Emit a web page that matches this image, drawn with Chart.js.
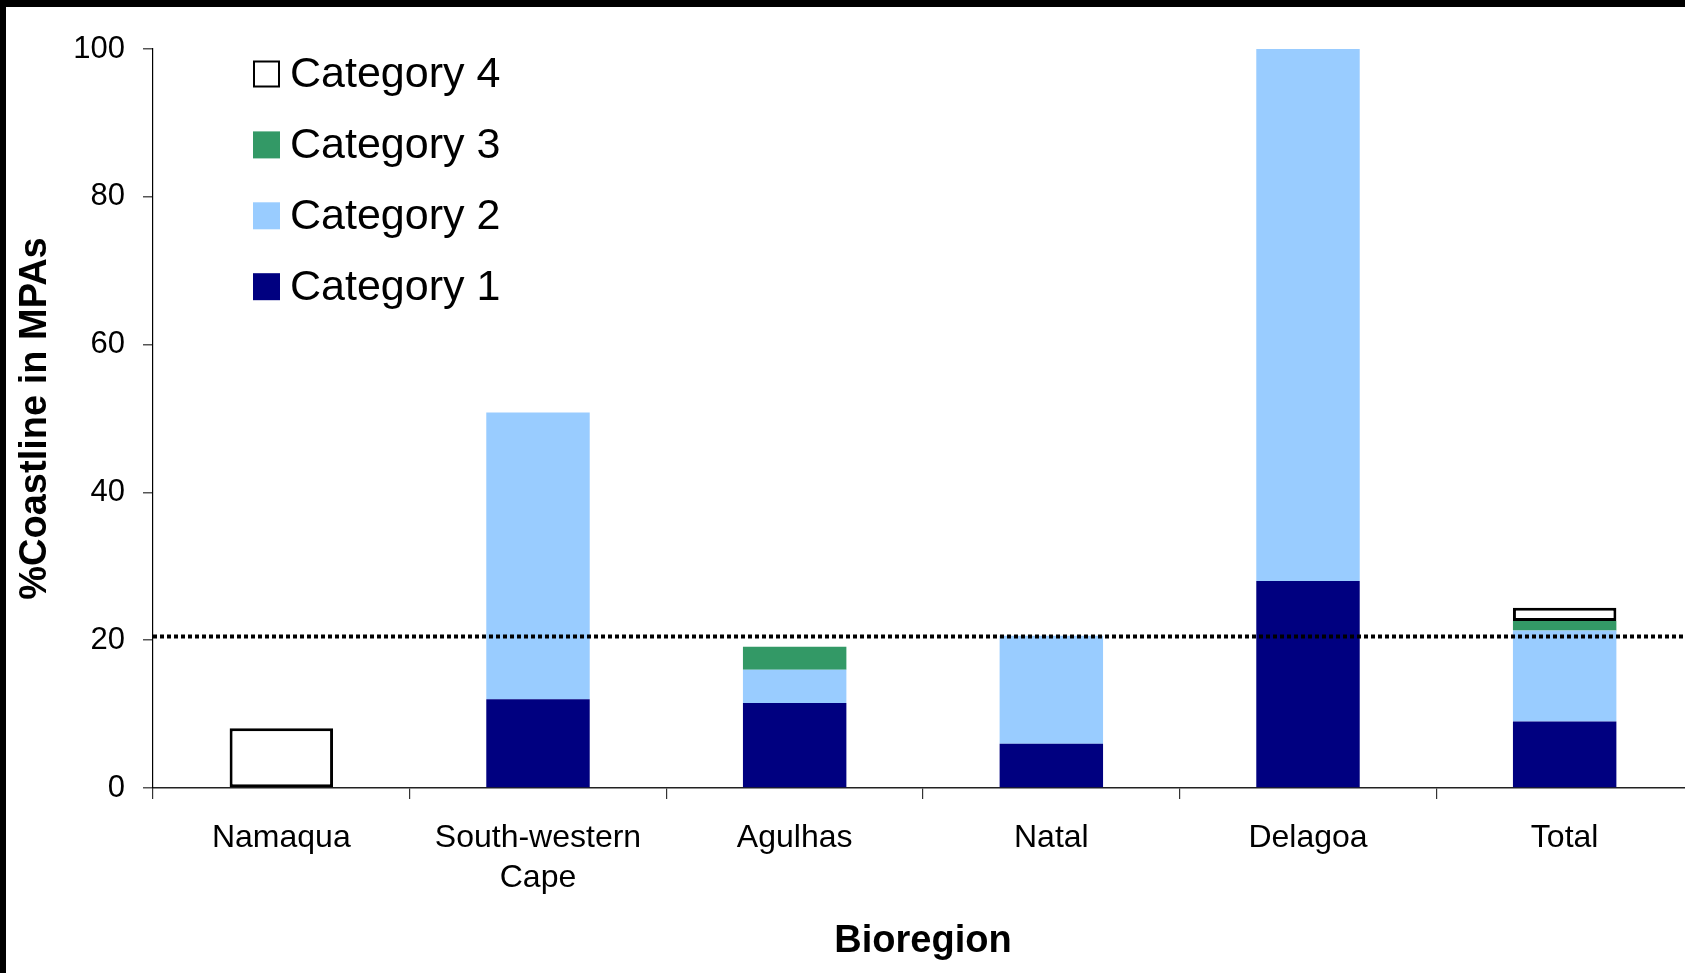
<!DOCTYPE html>
<html>
<head>
<meta charset="utf-8">
<title>%Coastline in MPAs by bioregion</title>
<script src="https://cdn.jsdelivr.net/npm/chart.js@4/dist/chart.umd.min.js"></script>
<style>
  html, body { margin: 0; padding: 0; background: #fff; }
  #wrap { position: relative; width: 1685px; height: 973px; overflow: hidden; }
  #frameTop { position: absolute; left: 0; top: 0; width: 1685px; height: 7px; background: #000; }
  #frameLeft { position: absolute; left: 0; top: 0; width: 6px; height: 973px; background: #000; }
  canvas { position: absolute; left: 0; top: 0; }
</style>
</head>
<body>
<div id="wrap">
  <canvas id="chart" width="1693" height="973"></canvas>
  <div id="frameTop"></div>
  <div id="frameLeft"></div>
</div>
<script>
// Bioregions along the coast, plus the overall total
const bioregions = ['Namaqua', ['South-western', 'Cape'], 'Agulhas', 'Natal', 'Delagoa', 'Total'];

// % of coastline in MPAs, by protection category (stacked)
const category1 = [null, 12, 11.5, 6, 28, 9];
const category2 = [null, 38.8, 4.5, 14.6, 72, 12.3];
const category3 = [null, null, 3.1, null, null, 1.3];
const category4 = [8.1, null, null, null, null, 1.8];

// Conservation target reference line (%)
const targetLine = 20.5;

// Value axis ticks
const yTickValues = [0, 20, 40, 60, 80, 100];

const FONT = '"Liberation Sans", Arial, Helvetica, sans-serif';

// Dotted horizontal target line across the plot area
const targetLinePlugin = {
  id: 'targetLine',
  afterDatasetsDraw(chart) {
    const {ctx, chartArea, scales} = chart;
    const y = scales.y.getPixelForValue(targetLine);
    ctx.save();
    ctx.strokeStyle = '#000';
    ctx.lineWidth = 4;
    ctx.setLineDash([4, 3]);
    ctx.beginPath();
    ctx.moveTo(chartArea.left, y);
    ctx.lineTo(chartArea.right, y);
    ctx.stroke();
    ctx.restore();
  }
};

// Legend placed inside the plot area, top-left, listing categories top-down (4 → 1)
const insideLegendPlugin = {
  id: 'insideLegend',
  afterDraw(chart) {
    const {ctx, chartArea} = chart;
    const box = 27;
    const x0 = chartArea.left + 100;
    const firstCenter = chartArea.top + 25;
    const step = 70.9;
    const items = chart.data.datasets.map((ds, i) => ({ds, i})).reverse();
    ctx.save();
    ctx.font = '43px ' + FONT;
    ctx.textBaseline = 'middle';
    ctx.textAlign = 'left';
    items.forEach((item, row) => {
      const cy = firstCenter + row * step;
      const ds = item.ds;
      ctx.fillStyle = ds.backgroundColor;
      ctx.fillRect(x0, cy - box / 2, box, box);
      if (ds.borderWidth) {
        ctx.strokeStyle = ds.borderColor;
        ctx.lineWidth = 2;
        ctx.strokeRect(x0 + 1, cy - box / 2 + 1, box - 2, box - 2);
      }
      ctx.fillStyle = '#000';
      ctx.fillText(ds.label, x0 + box + 10, cy + 1);
    });
    ctx.restore();
  }
};

new Chart(document.getElementById('chart'), {
  type: 'bar',
  data: {
    labels: bioregions,
    datasets: [
      { label: 'Category 1', data: category1, backgroundColor: '#000080', borderWidth: 0 },
      { label: 'Category 2', data: category2, backgroundColor: '#99CCFF', borderWidth: 0 },
      { label: 'Category 3', data: category3, backgroundColor: '#339966', borderWidth: 0 },
      { label: 'Category 4', data: category4, backgroundColor: '#FFFFFF', borderColor: '#000000', borderWidth: 3, borderSkipped: false }
    ]
  },
  options: {
    responsive: false,
    animation: false,
    devicePixelRatio: 1,
    layout: { padding: { left: 0, top: 49, right: 0, bottom: 0 } },
    datasets: {
      bar: { categoryPercentage: 1, barPercentage: 0.403 }
    },
    plugins: {
      legend: { display: false },
      tooltip: { enabled: false },
      title: { display: false }
    },
    scales: {
      x: {
        stacked: true,
        afterFit(scale) { scale.height = 185; },
        grid: {
          display: true,
          offset: true,
          drawOnChartArea: false,
          drawTicks: true,
          tickLength: 11,
          color: '#333',
          lineWidth: 1.2
        },
        border: { display: true, color: '#222', width: 1.5 },
        ticks: {
          color: '#000',
          padding: 19,
          maxRotation: 0,
          autoSkip: false,
          font: { family: FONT, size: 32, lineHeight: 1.25 }
        },
        title: {
          display: true,
          text: 'Bioregion',
          color: '#000',
          font: { family: FONT, size: 38, weight: 'bold', lineHeight: 1.2 },
          padding: { top: 10, bottom: 9 }
        }
      },
      y: {
        stacked: true,
        min: 0,
        max: 100,
        afterFit(scale) { scale.width = 153; },
        afterBuildTicks(scale) { scale.ticks = yTickValues.map(v => ({ value: v })); },
        grid: {
          display: true,
          drawOnChartArea: false,
          drawTicks: true,
          tickLength: 10,
          color: '#555',
          lineWidth: 1.5
        },
        border: { display: true, color: '#000', width: 1.2 },
        ticks: {
          color: '#000',
          padding: 18,
          font: { family: FONT, size: 31 }
        },
        title: {
          display: true,
          text: '%Coastline in MPAs',
          color: '#000',
          font: { family: FONT, size: 38, weight: 'bold', lineHeight: 1.2 },
          padding: { top: 13, bottom: 0 }
        }
      }
    }
  },
  plugins: [targetLinePlugin, insideLegendPlugin]
});
</script>
</body>
</html>
